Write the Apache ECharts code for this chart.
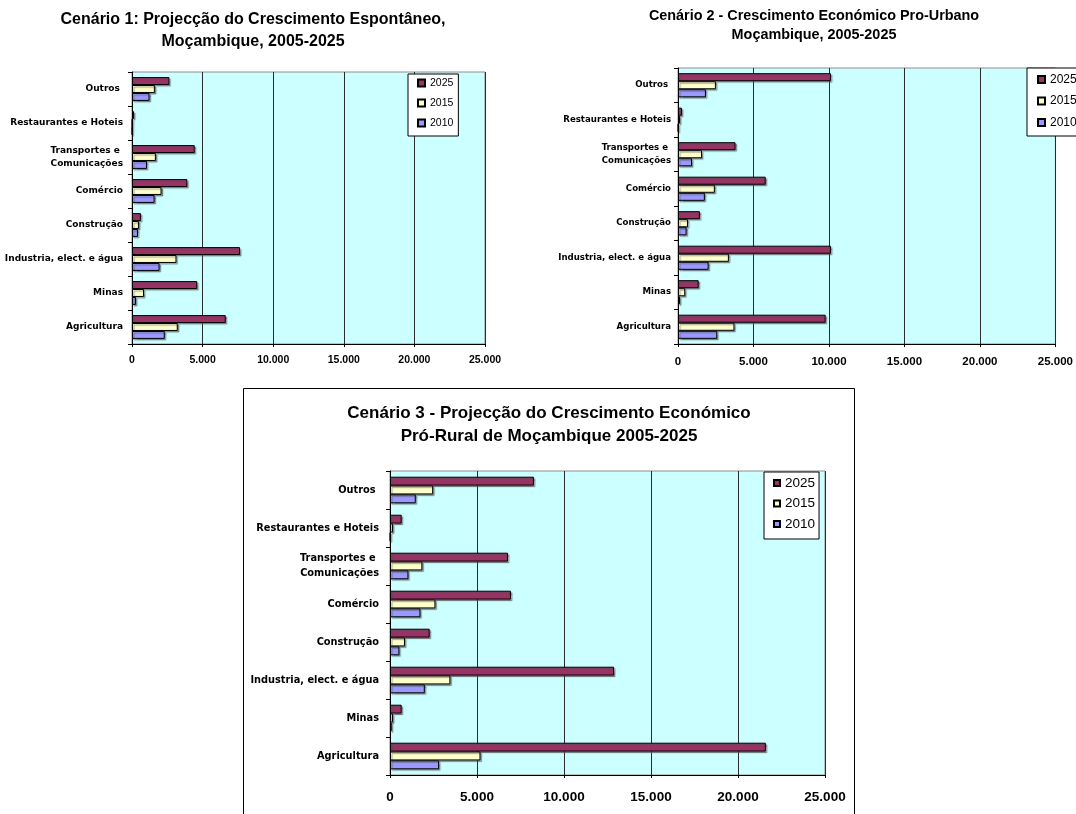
<!DOCTYPE html>
<html>
<head>
<meta charset="utf-8">
<script src="https://cdn.jsdelivr.net/npm/echarts@6/dist/echarts.min.js"></script>
<style>
  html, body { margin: 0; padding: 0; background: #fff; }
  #chart { width: 1076px; height: 814px; }
</style>
</head>
<body>
<div id="chart"></div>
<script>
// Sector categories, listed from the bottom of each axis to the top
const categories = [
  'Agricultura',
  'Minas',
  'Industria, elect. e água',
  'Construção',
  'Comércio',
  'Transportes e \nComunicações',
  'Restaurantes e Hoteis',
  'Outros '
];

// Series order inside each band: the first one is drawn at the top
const years = ['2025', '2015', '2010'];
const legendOrder = ['2025', '2015', '2010'];
const xTicks = [0, 5000, 10000, 15000, 20000, 25000];

// Cenário 1 – crescimento espontâneo
const c1_2025 = [6640, 4620, 7650, 630, 3920, 4440, 140, 2650];
const c1_2015 = [3240, 850, 3150, 490, 2090, 1690, 20, 1620];
const c1_2010 = [2320, 280, 1950, 420, 1600, 1060, 10, 1240];

// Cenário 2 – crescimento pro-urbano
const c2_2025 = [9780, 1370, 10130, 1450, 5810, 3810, 260, 10130];
const c2_2015 = [3740, 480, 3370, 660, 2440, 1590, 130, 2510];
const c2_2010 = [2600, 130, 2030, 570, 1780, 930, 20, 1850];

// Cenário 3 – crescimento pró-rural
const c3_2025 = [21600, 670, 12880, 2280, 6950, 6780, 670, 8270];
const c3_2015 = [5200, 170, 3470, 860, 2610, 1860, 170, 2480];
const c3_2010 = [2820, 100, 2000, 540, 1750, 1060, 20, 1480];

const seriesColor = { '2025': '#993366', '2015': '#FFFFCC', '2010': '#9999FF' };

const scenarios = [
  { '2010': c1_2010, '2015': c1_2015, '2025': c1_2025 },
  { '2010': c2_2010, '2015': c2_2015, '2025': c2_2025 },
  { '2010': c3_2010, '2015': c3_2015, '2025': c3_2025 }
];

const fmt = v => v === 0 ? '0' : String(v).replace(/\B(?=(\d{3})+(?!\d))/g, '.');

// Plot areas (left, right, top, bottom) and text sizes per panel
const panels = [
  { grid: { left: 132, right: 591, top: 72, bottom: 470 }, catSize: 9, catMargin: 9, tickSize: 10.5, tickMargin: 11 },
  { grid: { left: 678, right: 20, top: 68, bottom: 470 }, catSize: 8.6, catMargin: 7, tickSize: 11.5, tickMargin: 12 },
  { grid: { left: 390, right: 251, top: 471, bottom: 39 }, catSize: 9.8, catMargin: 11, tickSize: 13.5, tickMargin: 15 }
];

const grids = [], xAxes = [], yAxes = [], series = [];
panels.forEach((p, i) => {
  grids.push(Object.assign({
    show: true,
    backgroundColor: '#CCFFFF',
    borderColor: '#8c8c8c',
    borderWidth: 1,
    containLabel: false
  }, p.grid));
  xAxes.push({
    type: 'value',
    gridIndex: i,
    min: xTicks[0],
    max: xTicks[xTicks.length - 1],
    interval: xTicks[1] - xTicks[0],
    axisLine: { show: true, lineStyle: { color: '#000', width: 1 } },
    axisTick: { show: true, length: 3, lineStyle: { color: '#000' } },
    splitLine: { show: true, lineStyle: { color: '#2b2b2b', width: 1 } },
    axisLabel: {
      formatter: fmt,
      fontFamily: 'Liberation Sans',
      fontWeight: 'bold',
      fontSize: p.tickSize,
      color: '#000',
      margin: p.tickMargin,
      showMaxLabel: true,
      showMinLabel: true
    }
  });
  yAxes.push({
    type: 'category',
    gridIndex: i,
    data: categories,
    axisLine: { show: true, onZero: false, lineStyle: { color: '#000', width: 1 } },
    axisTick: { show: true, length: 4, alignWithLabel: false, lineStyle: { color: '#000' } },
    splitLine: { show: false },
    axisLabel: {
      fontFamily: 'DejaVu Sans',
      fontWeight: 'bold',
      fontSize: p.catSize,
      lineHeight: p.catSize * 1.45,
      color: '#000',
      margin: p.catMargin,
      align: 'right',
      interval: 0
    }
  });
  years.forEach(y => {
    series.push({
      type: 'bar',
      name: y,
      xAxisIndex: i,
      yAxisIndex: i,
      data: scenarios[i][y],
      barGap: '0%',
      barCategoryGap: '30%',
      itemStyle: {
        color: seriesColor[y],
        borderColor: '#000',
        borderWidth: 1,
        shadowColor: 'rgba(80,80,80,0.55)',
        shadowOffsetX: 1.5,
        shadowOffsetY: 1.5,
        shadowBlur: 1
      },
      emphasis: { disabled: true }
    });
  });
});

const legendBase = {
  orient: 'vertical',
  data: legendOrder,
  icon: 'rect',
  backgroundColor: '#fff',
  borderColor: '#000',
  borderWidth: 1,
  selectedMode: false,
  itemStyle: { shadowBlur: 0, shadowOffsetX: 0, shadowOffsetY: 0 }
};

const legends = [
  Object.assign({}, legendBase, {
    left: 408, top: 74, padding: [3, 5, 7, 9],
    itemWidth: 7, itemHeight: 7, itemGap: 8,
    textStyle: { fontFamily: 'Liberation Sans', fontSize: 10.5, lineHeight: 12, color: '#000' }
  }),
  Object.assign({}, legendBase, {
    left: 1027, top: 68, padding: [5, 8, 7, 10],
    itemWidth: 7, itemHeight: 7, itemGap: 8.5,
    textStyle: { fontFamily: 'Liberation Sans', fontSize: 12, lineHeight: 13, color: '#000' }
  }),
  Object.assign({}, legendBase, {
    left: 764, top: 472, padding: [4, 4, 8, 9],
    itemWidth: 6, itemHeight: 6, itemGap: 6.5,
    textStyle: { fontFamily: 'Liberation Sans', fontSize: 13.5, lineHeight: 14, color: '#000' }
  })
];

const titleFont = size => 'bold ' + size + 'px "Liberation Sans", Arial, sans-serif';
const titleText = (text, x, y, size) => ({
  type: 'text',
  x: x, y: y,
  silent: true,
  style: { text: text, font: titleFont(size), fill: '#000', align: 'center', verticalAlign: 'middle' }
});

const graphics = [
  // frame around the third chart
  {
    type: 'rect',
    silent: true,
    shape: { x: 243.5, y: 388.5, width: 611, height: 440 },
    style: { fill: 'none', stroke: '#000', lineWidth: 1 },
    z: -10
  },
  titleText('Cenário 1: Projecção do Crescimento Espontâneo,', 253, 20, 16),
  titleText('Moçambique, 2005-2025', 253, 42, 16),
  titleText('Cenário 2 - Crescimento Económico Pro-Urbano', 814, 16, 14.4),
  titleText('Moçambique, 2005-2025', 814, 35, 14.4),
  titleText('Cenário 3 - Projecção do Crescimento Económico', 549, 413, 17),
  titleText('Pró-Rural de Moçambique 2005-2025', 549, 436, 17)
];

const chart = echarts.init(document.getElementById('chart'), null, { renderer: 'canvas' });
chart.setOption({
  animation: false,
  backgroundColor: '#fff',
  grid: grids,
  xAxis: xAxes,
  yAxis: yAxes,
  legend: legends,
  series: series,
  graphic: graphics
});
</script>
</body>
</html>
